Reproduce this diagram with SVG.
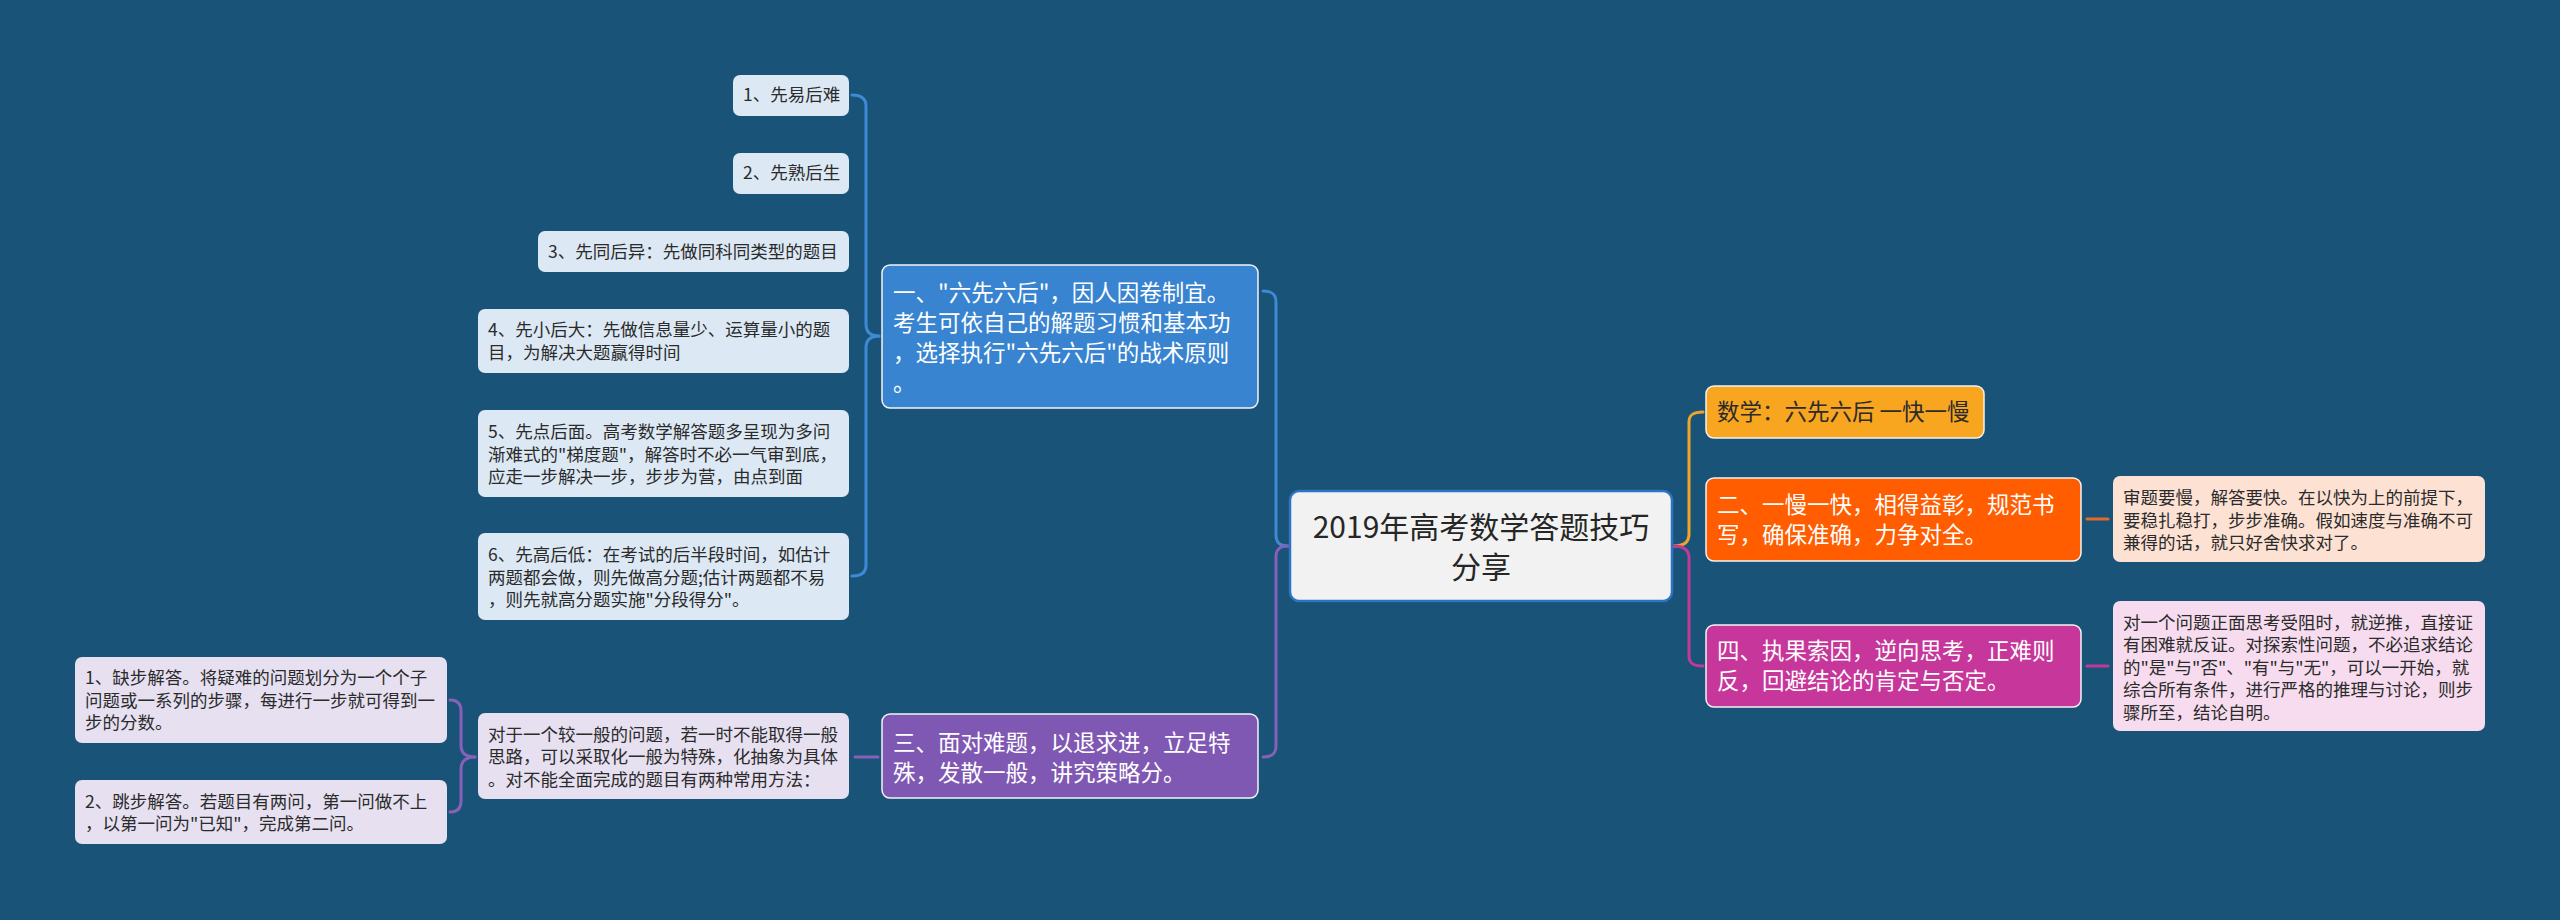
<svg xmlns="http://www.w3.org/2000/svg" width="2560" height="920" viewBox="0 0 2560 920">
<style>
text{font-family:"Noto Sans CJK SC","Noto Sans",sans-serif;}
.s{font-size:17.5px;fill:#2b2b2b;}
.b{font-size:22.5px;fill:#ffffff;}
.bd{font-size:22.5px;fill:#2b2b2b;}
.c{font-size:30px;fill:#262626;text-anchor:middle;}
.con{fill:none;stroke-width:3;stroke-linecap:round;}
.nb{stroke:#f4f4f4;stroke-width:1.5;}
</style>
<rect x="0" y="0" width="2560" height="920" fill="#1a5378"/>
<g id="connectors">
<path class="con" stroke="#3e8ad6" d="M1288,546 C1280,546 1276,543 1276,535 L1276,302 C1276,294 1272,291 1263,291"/>
<path class="con" stroke="#8760b8" d="M1288,546 C1280,546 1276,549 1276,557 L1276,746 C1276,754 1272,757 1263,757"/>
<path class="con" stroke="#f0a529" d="M1674,546 C1684,546 1689,542 1689,534 L1689,422 C1689,415 1693,412 1703,412"/>
<path class="con" stroke="#c23a98" d="M1674,546 C1684,546 1689,550 1689,558 L1689,656 C1689,663 1693,666 1703,666"/>
<path class="con" stroke="#3e8ad6" d="M879,336 C870,336 866,332 866,324 L866,106 C866,99 862,95 852,95"/>
<path class="con" stroke="#3e8ad6" d="M879,336 C870,336 866,340 866,348 L866,565 C866,572 862,576 852,576"/>
<path class="con" stroke="#8760b8" d="M855,757 L878,757"/>
<path class="con" stroke="#8760b8" d="M475,757 C466,757 461,753 461,745 L461,711 C461,704 458,700 450,700"/>
<path class="con" stroke="#8760b8" d="M475,757 C466,757 461,761 461,769 L461,801 C461,808 458,812 450,812"/>
<path class="con" stroke="#e06a28" d="M2087,519 L2108,519"/>
<path class="con" stroke="#c23a98" d="M2087,666 L2108,666"/>
</g>
<g id="center">
<rect x="1290" y="491" width="382" height="110" rx="9" fill="#f2f2f2" stroke="#2d74c4" stroke-width="2.5"/>
<text class="c" x="1481" y="538">2019年高考数学答题技巧</text>
<text class="c" x="1481" y="578">分享</text>
</g>
<g id="n1">
<rect class="nb" x="882" y="265" width="376" height="143" rx="8" fill="#3984d0"/>
<text class="b" x="893" y="301">一、"六先六后"，因人因卷制宜。</text>
<text class="b" x="893" y="331">考生可依自己的解题习惯和基本功</text>
<text class="b" x="893" y="361">，选择执行"六先六后"的战术原则</text>
<text class="b" x="893" y="391">。</text>
</g>
<g id="n1a"><rect x="733" y="75" width="116" height="41" rx="7" fill="#dce9f5"/><text class="s" x="743" y="101">1、先易后难</text></g>
<g id="n1b"><rect x="733" y="153" width="116" height="41" rx="7" fill="#dce9f5"/><text class="s" x="743" y="179">2、先熟后生</text></g>
<g id="n1c"><rect x="538" y="231" width="311" height="41" rx="7" fill="#dce9f5"/><text class="s" x="548" y="258">3、先同后异：先做同科同类型的题目</text></g>
<g id="n1d"><rect x="478" y="309" width="371" height="64" rx="7" fill="#dce9f5"/>
<text class="s" x="488" y="336">4、先小后大：先做信息量少、运算量小的题</text>
<text class="s" x="488" y="359">目，为解决大题赢得时间</text></g>
<g id="n1e"><rect x="478" y="410" width="371" height="87" rx="7" fill="#dce9f5"/>
<text class="s" x="488" y="438">5、先点后面。高考数学解答题多呈现为多问</text>
<text class="s" x="488" y="460.5">渐难式的"梯度题"，解答时不必一气审到底，</text>
<text class="s" x="488" y="483">应走一步解决一步，步步为营，由点到面</text></g>
<g id="n1f"><rect x="478" y="533" width="371" height="87" rx="7" fill="#dce9f5"/>
<text class="s" x="488" y="561">6、先高后低：在考试的后半段时间，如估计</text>
<text class="s" x="488" y="583.5">两题都会做，则先做高分题;估计两题都不易</text>
<text class="s" x="488" y="606">，则先就高分题实施"分段得分"。</text></g>
<g id="n3">
<rect class="nb" x="882" y="714" width="376" height="84" rx="8" fill="#7f58b3"/>
<text class="b" x="893" y="751">三、面对难题，以退求进，立足特</text>
<text class="b" x="893" y="781">殊，发散一般，讲究策略分。</text>
</g>
<g id="n3a"><rect x="478" y="713" width="371" height="86" rx="7" fill="#e6e0f1"/>
<text class="s" x="488" y="740.5">对于一个较一般的问题，若一时不能取得一般</text>
<text class="s" x="488" y="763">思路，可以采取化一般为特殊，化抽象为具体</text>
<text class="s" x="488" y="785.5">。对不能全面完成的题目有两种常用方法：</text></g>
<g id="n3b"><rect x="75" y="657" width="372" height="86" rx="7" fill="#e6e0f1"/>
<text class="s" x="85" y="684">1、缺步解答。将疑难的问题划分为一个个子</text>
<text class="s" x="85" y="706.5">问题或一系列的步骤，每进行一步就可得到一</text>
<text class="s" x="85" y="729">步的分数。</text></g>
<g id="n3c"><rect x="75" y="780" width="372" height="64" rx="7" fill="#e6e0f1"/>
<text class="s" x="85" y="807.5">2、跳步解答。若题目有两问，第一问做不上</text>
<text class="s" x="85" y="830">，以第一问为"已知"，完成第二问。</text></g>
<g id="r0">
<rect class="nb" x="1706" y="386" width="278" height="52" rx="8" fill="#f8a51f"/>
<text class="bd" x="1717" y="420">数学：六先六后 一快一慢</text>
</g>
<g id="r2">
<rect class="nb" x="1706" y="478" width="375" height="83" rx="8" fill="#ff5d00"/>
<text class="b" x="1717" y="513">二、一慢一快，相得益彰，规范书</text>
<text class="b" x="1717" y="543">写，确保准确，力争对全。</text>
</g>
<g id="r2a"><rect x="2113" y="476" width="372" height="86" rx="7" fill="#fde1d3"/>
<text class="s" x="2123" y="504">审题要慢，解答要快。在以快为上的前提下，</text>
<text class="s" x="2123" y="526.5">要稳扎稳打，步步准确。假如速度与准确不可</text>
<text class="s" x="2123" y="549">兼得的话，就只好舍快求对了。</text></g>
<g id="r4">
<rect class="nb" x="1706" y="625" width="375" height="82" rx="8" fill="#c7369a"/>
<text class="b" x="1717" y="659">四、执果索因，逆向思考，正难则</text>
<text class="b" x="1717" y="689">反，回避结论的肯定与否定。</text>
</g>
<g id="r4a"><rect x="2113" y="601" width="372" height="130" rx="7" fill="#f6dcee"/>
<text class="s" x="2123" y="628.5">对一个问题正面思考受阻时，就逆推，直接证</text>
<text class="s" x="2123" y="651">有困难就反证。对探索性问题，不必追求结论</text>
<text class="s" x="2123" y="673.5">的"是"与"否"、"有"与"无"，可以一开始，就</text>
<text class="s" x="2123" y="696">综合所有条件，进行严格的推理与讨论，则步</text>
<text class="s" x="2123" y="718.5">骤所至，结论自明。</text></g>
</svg>
